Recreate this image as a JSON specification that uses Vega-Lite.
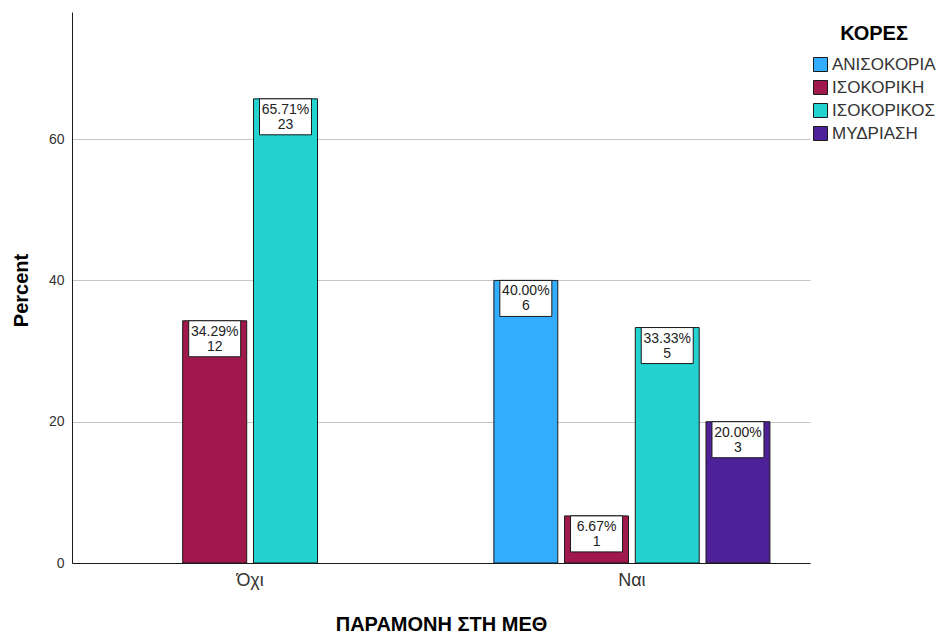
{
  "$schema": "https://vega.github.io/schema/vega-lite/v6.json",
  "width": 738,
  "height": 551,
  "autosize": {"type": "none"},
  "padding": {"left": 72, "top": 12, "right": 126, "bottom": 71},
  "background": "white",
  "config": {
    "font": "Liberation Sans",
    "view": {"stroke": null},
    "axis": {"domainColor": "#1a1a1a", "domainWidth": 1, "ticks": false}
  },
  "data": {
    "values": [
      {"group": "Όχι", "pupils": "ΙΣΟΚΟΡΙΚΗ", "percent": 34.29, "count": 12},
      {"group": "Όχι", "pupils": "ΙΣΟΚΟΡΙΚΟΣ", "percent": 65.71, "count": 23},
      {"group": "Ναι", "pupils": "ΑΝΙΣΟΚΟΡΙΑ", "percent": 40.00, "count": 6},
      {"group": "Ναι", "pupils": "ΙΣΟΚΟΡΙΚΗ", "percent": 6.67, "count": 1},
      {"group": "Ναι", "pupils": "ΙΣΟΚΟΡΙΚΟΣ", "percent": 33.33, "count": 5},
      {"group": "Ναι", "pupils": "ΜΥΔΡΙΑΣΗ", "percent": 20.00, "count": 3}
    ]
  },
  "encoding": {
    "x": {
      "field": "group",
      "type": "nominal",
      "scale": {"domain": ["Όχι", "Ναι"], "paddingInner": 0.277, "paddingOuter": 0.105},
      "axis": {
        "title": "ΠΑΡΑΜΟΝΗ ΣΤΗ ΜΕΘ",
        "titleFontSize": 20,
        "titleFontWeight": "bold",
        "titleColor": "#000",
        "titleX": 369,
        "titleY": 61,
        "titleBaseline": "middle",
        "labelFontSize": 18,
        "labelColor": "#333",
        "labelPadding": 8,
        "labelAngle": 0,
        "grid": false
      }
    },
    "y": {
      "field": "percent",
      "type": "quantitative",
      "scale": {"domain": [0, 78], "nice": false},
      "axis": {
        "title": "Percent",
        "titleFontSize": 20,
        "titleFontWeight": "bold",
        "titleColor": "#000",
        "titleX": -51,
        "titleY": 278,
        "titleAngle": -90,
        "titleAlign": "center",
        "titleBaseline": "middle",
        "values": [0, 20, 40, 60],
        "labelFontSize": 14,
        "labelColor": "#333",
        "labelPadding": 8,
        "grid": true,
        "gridColor": "#c4c4c4",
        "gridWidth": 1
      }
    }
  },
  "layer": [
    {
      "transform": [{"filter": {"field": "group", "equal": "Όχι"}}],
      "encoding": {
        "xOffset": {
          "field": "pupils",
          "type": "nominal",
          "scale": {"domain": ["ΙΣΟΚΟΡΙΚΗ", "ΙΣΟΚΟΡΙΚΟΣ"], "paddingInner": 0.096, "paddingOuter": 0.997}
        }
      },
      "layer": [
        {
          "mark": {"type": "bar", "stroke": "#1a1a1a", "strokeWidth": 1},
          "encoding": {
            "color": {
              "field": "pupils",
              "type": "nominal",
              "scale": {
                "domain": ["ΑΝΙΣΟΚΟΡΙΑ", "ΙΣΟΚΟΡΙΚΗ", "ΙΣΟΚΟΡΙΚΟΣ", "ΜΥΔΡΙΑΣΗ"],
                "range": ["#33adff", "#a0184c", "#22d3cf", "#4e2198"]
              },
              "legend": {
                "title": "ΚΟΡΕΣ",
                "orient": "none",
                "legendX": 740,
                "legendY": 12,
                "titleFontSize": 20,
                "titleFontWeight": "bold",
                "titleColor": "#000",
                "titleAnchor": "middle",
                "titlePadding": 12,
                "labelFontSize": 17,
                "labelColor": "#333",
                "labelOffset": 3,
                "rowPadding": 4,
                "symbolType": "square",
                "symbolSize": 196,
                "symbolStrokeColor": "#333",
                "symbolStrokeWidth": 1,
                "symbolOpacity": 1
              }
            }
          }
        },
        {
          "mark": {"type": "point", "shape": "M-1,0H1V1.385H-1Z", "size": 2704, "filled": true, "fill": "white", "stroke": "#1a1a1a", "strokeWidth": 1, "opacity": 1}
        },
        {
          "mark": {
            "type": "text",
            "baseline": "top",
            "dy": 4,
            "fontSize": 14,
            "lineHeight": 15,
            "color": "#222",
            "text": {"expr": "[format(datum.percent, '.2f') + '%', format(datum.count, 'd')]"}
          }
        }
      ]
    },
    {
      "transform": [{"filter": {"field": "group", "equal": "Ναι"}}],
      "encoding": {
        "xOffset": {
          "field": "pupils",
          "type": "nominal",
          "scale": {"domain": ["ΑΝΙΣΟΚΟΡΙΑ", "ΙΣΟΚΟΡΙΚΗ", "ΙΣΟΚΟΡΙΚΟΣ", "ΜΥΔΡΙΑΣΗ"], "paddingInner": 0.096, "paddingOuter": 0}
        }
      },
      "layer": [
        {
          "mark": {"type": "bar", "stroke": "#1a1a1a", "strokeWidth": 1},
          "encoding": {
            "color": {"field": "pupils", "type": "nominal"}
          }
        },
        {
          "mark": {"type": "point", "shape": "M-1,0H1V1.385H-1Z", "size": 2704, "filled": true, "fill": "white", "stroke": "#1a1a1a", "strokeWidth": 1, "opacity": 1}
        },
        {
          "mark": {
            "type": "text",
            "baseline": "top",
            "dy": 4,
            "fontSize": 14,
            "lineHeight": 15,
            "color": "#222",
            "text": {"expr": "[format(datum.percent, '.2f') + '%', format(datum.count, 'd')]"}
          }
        }
      ]
    }
  ],
  "resolve": {"scale": {"xOffset": "independent"}}
}
